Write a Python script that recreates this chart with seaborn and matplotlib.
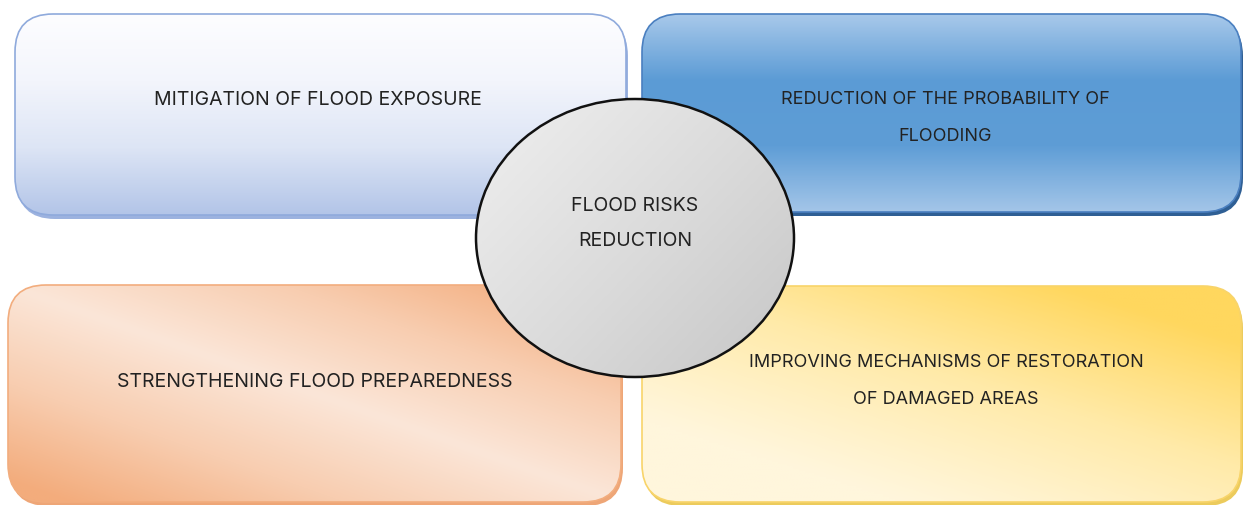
import numpy as np
import matplotlib
matplotlib.use("Agg")
import matplotlib.pyplot as plt
from matplotlib.patches import FancyBboxPatch, Ellipse
import seaborn as sns

# diagram content
box_labels = [
    "MITIGATION OF FLOOD EXPOSURE",
    "REDUCTION OF THE PROBABILITY OF\n\nFLOODING",
    "STRENGTHENING FLOOD PREPAREDNESS",
    "IMPROVING MECHANISMS OF RESTORATION\n\nOF DAMAGED AREAS",
]
center_label = "FLOOD RISKS\n\nREDUCTION"

# gradient stops for each box (seaborn blends them into colormaps)
box_colors = [
    ["#fdfdff", "#f3f5fc", "#dde5f5", "#b3c5e8"],
    ["#a7c8ea", "#5b9bd5", "#5e9dd6", "#a3c5e8"],
    ["#fbe6d8", "#f8cdb0", "#f3ac7c"],
    ["#fff6dc", "#ffeaa8", "#ffd75e"],
]
edge_colors = ["#8faadc", "#4a7fc0", "#f2ad7e", "#f8d46a"]
shadow_colors = ["#9cb2df", "#2f5f94", "#eea677", "#eccb5c"]
circle_colors = ["#ececec", "#dadada", "#c6c6c6"]

sns.set_theme(style="white")
plt.rcParams["font.family"] = ["Inter", "DejaVu Sans"]

W, H = 1244, 506
fig = plt.figure(figsize=(W / 100, H / 100), dpi=100)
ax = fig.add_axes([0, 0, 1, 1])
ax.set_xlim(0, W)
ax.set_ylim(H, 0)
ax.axis("off")

# box layout in pixels: x0, y0, x1, y1
layout = [
    (15, 15, 626, 216),
    (642, 15, 1241, 213),
    (8, 286, 621, 503),
    (642, 287, 1241, 503),
]
text_pos = [(318, 100), (945, 118), (315, 382), (946, 381)]
text_size = [14, 13, 14, 13]


def box_field(k, nx, ny):
    xx, yy = np.meshgrid(np.linspace(0, 1, nx), np.linspace(0, 1, ny))
    if k == 0:
        return yy
    if k == 1:
        return yy
    if k == 2:
        return np.clip(np.abs(xx - yy) * 1.1, 0, 1)
    return np.clip(0.7 * xx + 0.8 * (1 - yy) - 0.3, 0, 1) ** 1.1


for k, (x0, y0, x1, y1) in enumerate(layout):
    w, h = x1 - x0, y1 - y0
    shadow = FancyBboxPatch((x0 + 2, y0 + 4), w, h,
                            boxstyle="round,pad=0,rounding_size=38",
                            fc=shadow_colors[k], ec="none", zorder=1)
    ax.add_patch(shadow)
    patch = FancyBboxPatch((x0, y0), w, h,
                           boxstyle="round,pad=0,rounding_size=38",
                           fc="none", ec=edge_colors[k], lw=1.2, zorder=3)
    ax.add_patch(patch)
    cmap = sns.blend_palette(box_colors[k], as_cmap=True)
    im = ax.imshow(box_field(k, 200, 100), cmap=cmap, vmin=0, vmax=1,
                   extent=(x0, x1, y1, y0), origin="upper",
                   interpolation="bilinear", aspect="auto", zorder=2)
    im.set_clip_path(patch)
    ax.text(*text_pos[k], box_labels[k], ha="center", va="center",
            fontsize=text_size[k], color="#222222",
            linespacing=1.06 * 14 / text_size[k] * 0.98, zorder=6)

# central ellipse
cx, cy, ew, eh = 635, 239, 318, 278
ell = Ellipse((cx, cy), ew, eh, fc="none", ec="#111111", lw=1.8, zorder=5)
ax.add_patch(ell)
xx, yy = np.meshgrid(np.linspace(0, 1, 200), np.linspace(0, 1, 200))
field = np.clip(0.6 * xx + 0.5 * yy - 0.1, 0, 1)
im = ax.imshow(field, cmap=sns.blend_palette(circle_colors, as_cmap=True),
               vmin=0, vmax=1,
               extent=(cx - ew / 2, cx + ew / 2, cy + eh / 2, cy - eh / 2),
               origin="upper", interpolation="bilinear", aspect="auto", zorder=4)
im.set_clip_path(ell)
ax.text(cx, 223.5, center_label, ha="center", va="center", fontsize=14,
        color="#222222", linespacing=0.96, zorder=6)

fig.savefig("out.png", dpi=100, facecolor="white")
